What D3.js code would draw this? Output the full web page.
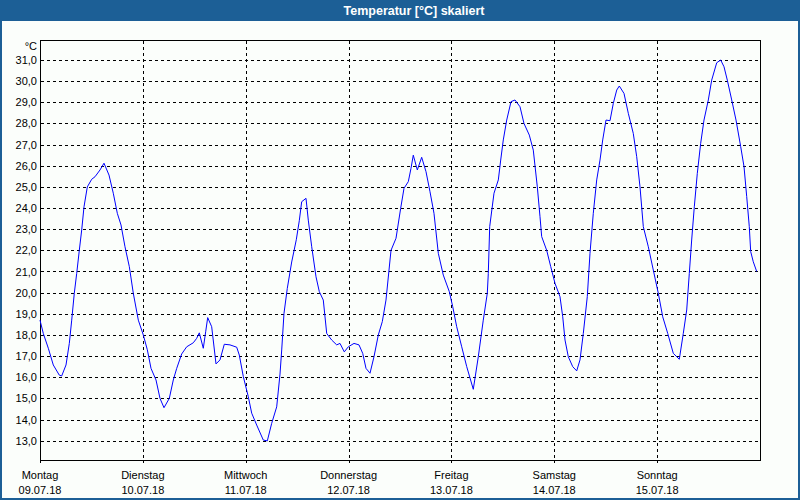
<!DOCTYPE html>
<html>
<head>
<meta charset="utf-8">
<script src="https://cdn.jsdelivr.net/npm/d3@7"></script>
<style>
  html, body { margin: 0; padding: 0; background: #fbfefb; }
  svg { display: block; }
</style>
</head>
<body>
<svg id="chart" width="800" height="500"></svg>
<script>
// ---- data (hours since Mon 09.07.18 00:00, temperature in °C) ----
const hours = [0,0.77,1.94,3.1,4.5,5.06,6.07,6.84,7.4,8.0,8.56,9.17,9.73,10.27,11.04,12.06,12.83,14.0,14.93,16.1,17.1,18.04,18.9,19.83,20.84,21.77,22.94,24.1,25.04,25.9,27.07,28.0,28.93,30.17,31.1,31.9,33.06,34.23,35.77,36.56,37.17,38.1,38.66,39.13,40.06,41.07,42.0,43.0,44.33,45.9,46.5,47.44,48.6,49.4,50.56,52.1,53.04,54.06,55.23,56.0,56.4,56.93,57.7,58.73,59.8,60.5,61.06,62.07,62.6,63.4,64.4,65.17,66.1,66.9,68.06,69.23,70.0,71.0,71.94,73.27,74.43,75.3,76.07,77.0,77.93,78.94,79.87,80.73,81.9,83.07,84.16,84.93,85.94,86.57,87.1,88.04,89.06,90.07,91.0,91.93,92.94,94.1,95.5,96.3,97.23,98.4,99.57,101.1,102.27,103.43,104.37,104.6,104.93,105.93,106.94,107.5,108.1,108.9,109.9,110.83,112.0,112.93,114.17,115.1,116.04,116.67,117.06,118.23,119.17,120.17,121.33,121.97,122.5,123.27,124.3,125.23,126.0,126.77,127.7,128.33,129.1,129.9,130.67,131.3,132.07,133.0,133.77,134.57,135.17,136.27,137.27,138.43,139.23,140.0,140.77,141.94,143.1,144.27,145.3,146.47,147.77,149.17,150.1,150.9,151.5,152.06,152.67,153.37,154.16,154.93,155.94,156.73,157.9,158.83,159.6,160.37,161.4,162.4,163.5,164.27,164.9,165.5,165.83,166.43,167.23];
const temps = [18.7,18.07,17.37,16.58,16.1,16.06,16.58,17.6,18.7,19.97,20.9,22.0,22.96,24.06,25.0,25.36,25.48,25.8,26.12,25.56,24.7,23.75,23.2,22.17,21.23,19.97,18.7,18.0,17.3,16.42,15.87,15.0,14.56,15.0,15.87,16.42,17.1,17.44,17.63,17.84,18.1,17.37,18.15,18.82,18.39,16.63,16.82,17.56,17.53,17.42,17.05,16.03,15.08,14.3,13.74,13.03,12.99,13.82,14.6,16.15,17.29,19.02,20.2,21.45,22.5,23.4,24.3,24.46,23.43,22.17,20.75,20.05,19.65,18.07,17.76,17.53,17.6,17.2,17.44,17.6,17.53,17.13,16.42,16.19,16.97,18.0,18.63,19.65,22.0,22.57,23.99,24.93,25.25,25.88,26.5,25.8,26.4,25.72,24.77,23.75,21.86,20.83,20.05,19.34,18.39,17.44,16.5,15.43,16.97,18.7,19.97,20.9,23.12,24.7,25.33,26.27,27.22,28.16,29.03,29.11,28.79,28.0,27.45,26.74,25.0,23.59,22.65,22.0,21.23,20.44,19.81,18.86,17.76,16.97,16.5,16.3,16.82,18.07,19.81,21.86,23.75,25.33,26.27,27.22,28.16,28.13,28.95,29.58,29.77,29.42,28.48,27.53,26.43,25.0,23.12,22.17,21.07,19.97,18.86,18.07,17.13,16.85,18.07,19.18,20.9,22.49,24.06,25.64,27.06,28.16,29.11,30.05,30.87,31.0,30.68,30.05,29.11,28.16,26.9,25.96,24.54,23.12,21.94,21.46,21.0];
const dayNames = ["Montag","Dienstag","Mittwoch","Donnerstag","Freitag","Samstag","Sonntag"];
const dayDates = ["09.07.18","10.07.18","11.07.18","12.07.18","13.07.18","14.07.18","15.07.18"];
const yTicks = [13,14,15,16,17,18,19,20,21,22,23,24,25,26,27,28,29,30,31];
const titleText = "Temperatur [°C] skaliert";
const unitText = "°C";

// ---- layout ----
const W = 800, H = 500;
const L = 40, R = 760, T = 40, B = 460;
const svg = d3.select("#chart");
const font = "'Liberation Sans', Arial, sans-serif";

const x = d3.scaleLinear().domain([0, 168]).range([L, R]);
const y = d3.scaleLinear().domain([12.087, 31.946]).range([B, T]);

// background
svg.append("rect").attr("width", W).attr("height", H).attr("fill", "#fbfefb");
// title bar
svg.append("rect").attr("x", 0).attr("y", 0).attr("width", W).attr("height", 21).attr("fill", "#1c5f96");
svg.append("text").attr("x", 414).attr("y", 15).attr("text-anchor", "middle")
  .attr("font-family", font).attr("font-weight", "bold").attr("font-size", 12.5)
  .attr("fill", "#ffffff").text(titleText);
// window border
svg.append("rect").attr("x", 1).attr("y", 1).attr("width", W - 2).attr("height", H - 2)
  .attr("fill", "none").attr("stroke", "#1c5f96").attr("stroke-width", 2);

// horizontal dashed grid
const g = svg.append("g");
g.selectAll("line.h").data(yTicks).enter().append("line")
  .attr("x1", L + 1).attr("x2", R)
  .attr("y1", d => Math.round(y(d)) + 0.5).attr("y2", d => Math.round(y(d)) + 0.5)
  .attr("stroke", "#000").attr("stroke-width", 1).attr("stroke-dasharray", "3,3");
// vertical dashed grid
g.selectAll("line.v").data(d3.range(1, 7)).enter().append("line")
  .attr("x1", d => Math.round(x(d * 24)) + 0.5).attr("x2", d => Math.round(x(d * 24)) + 0.5)
  .attr("y1", T + 1).attr("y2", B + 3)
  .attr("stroke", "#000").attr("stroke-width", 1).attr("stroke-dasharray", "3,3");

// y labels
const yAxis = d3.axisLeft(y).tickValues(yTicks).tickSize(0).tickPadding(3)
  .tickFormat(d => d3.format(".1f")(d).replace(".", ","));
const ya = svg.append("g").attr("transform", `translate(${L},0)`).call(yAxis);
ya.select(".domain").remove();
ya.selectAll("text").attr("font-family", font).attr("font-size", 11).attr("fill", "#000");

svg.append("text").attr("x", 37).attr("y", 50).attr("text-anchor", "end")
  .attr("font-family", font).attr("font-size", 11).attr("fill", "#000").text(unitText);

// x axis ticks & labels
const xa = svg.append("g");
xa.selectAll("line.t").data([0]).enter().append("line")
  .attr("x1", L + 0.5).attr("x2", L + 0.5).attr("y1", B).attr("y2", B + 3)
  .attr("stroke", "#000");
xa.selectAll("text.dn").data(dayNames).enter().append("text")
  .attr("x", (d, i) => x(i * 24)).attr("y", 479).attr("text-anchor", "middle")
  .attr("font-family", font).attr("font-size", 11).attr("fill", "#000").text(d => d);
xa.selectAll("text.dd").data(dayDates).enter().append("text")
  .attr("x", (d, i) => x(i * 24)).attr("y", 494).attr("text-anchor", "middle")
  .attr("font-family", font).attr("font-size", 11).attr("fill", "#000").text(d => d);

// frame
svg.append("rect").attr("x", L + 0.5).attr("y", T + 0.5).attr("width", R - L).attr("height", B - T)
  .attr("fill", "none").attr("stroke", "#000").attr("stroke-width", 1);

// line
const pts = hours.map((h, i) => [h, temps[i]]);
svg.append("path").datum(pts)
  .attr("d", d3.line().x(d => x(d[0])).y(d => y(d[1])))
  .attr("fill", "none").attr("stroke", "#0000ff").attr("stroke-width", 1);
</script>
</body>
</html>
